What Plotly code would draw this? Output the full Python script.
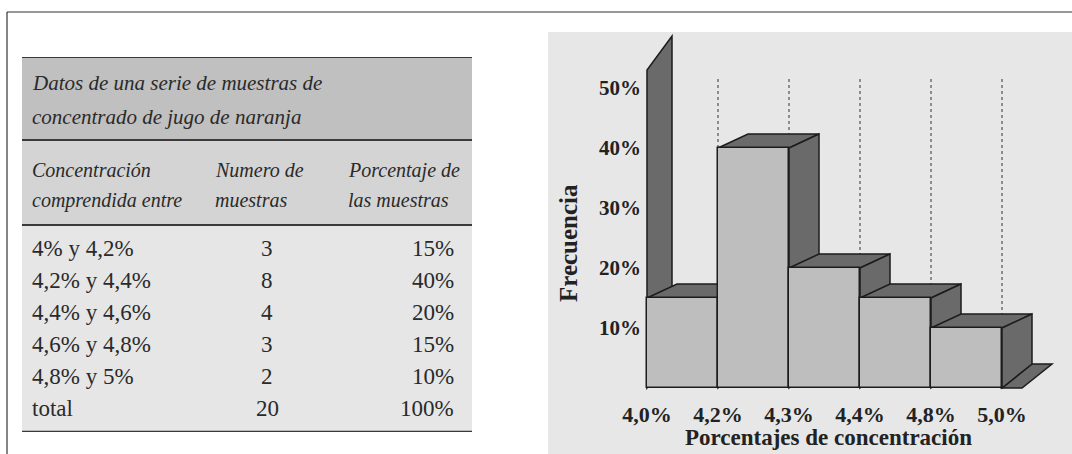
import plotly.graph_objects as go

# ---- data ----
TABLE_TITLE = ["Datos de una serie de muestras de", "concentrado de jugo de naranja"]
COLUMN_HEADERS = [
    ["Concentración", "comprendida entre"],
    ["Numero de", "muestras"],
    ["Porcentaje de", "las muestras"],
]
RANGES = ["4% y 4,2%", "4,2% y 4,4%", "4,4% y 4,6%", "4,6% y 4,8%", "4,8% y 5%"]
COUNTS = [3, 8, 4, 3, 2]
PERCENTS = [15, 40, 20, 15, 10]
TOTAL_LABEL = "total"
TOTAL_COUNT = 20
TOTAL_PERCENT = 100

X_TICK_LABELS = ["4,0%", "4,2%", "4,3%", "4,4%", "4,8%", "5,0%"]
Y_TICKS = [10, 20, 30, 40, 50]
X_TITLE = "Porcentajes de concentración"
Y_TITLE = "Frecuencia"

# ---- page geometry (pixels of the 1072x454 page) ----
W, H = 1072, 454
X0_PX, UNIT_PX = 647, 71      # left edge of first bar, width of one class
Y0_PX, PCT_PX = 388, 6        # baseline, pixels per 1 %
PANEL_LEFT, PANEL_TOP = 548, 32

SERIF = "Liberation Serif"
INK = "#222222"
FRONT = "#bebebe"
DARK = "#6a6a6a"
EDGE = "#1c1c1c"

# depth of the fake 3d effect, in axis units
DX, DY = 30 / UNIT_PX, 14 / PCT_PX
FLOOR_DY = 24 / PCT_PX
WALL_DX, WALL_DY, WALL_TOP = 25 / UNIT_PX, 34 / PCT_PX, 53
GRID_TOP = 51.7
FLOOR_W = 20 / UNIT_PX


def px(x):
    return x / W


def py(y):
    return 1 - y / H


def ux(x):
    return (x - X0_PX) / UNIT_PX


def uy(y):
    return (Y0_PX - y) / PCT_PX


shapes = [
    # chart panel and page frame
    dict(type="rect", xref="paper", yref="paper", x0=px(PANEL_LEFT), x1=1,
         y0=0, y1=py(PANEL_TOP), fillcolor="#e7e7e7", line={"width": 0}, layer="below"),
    dict(type="line", xref="paper", yref="paper", x0=px(7), x1=1,
         y0=py(12), y1=py(12), line={"color": "#333333", "width": 1.2}),
    dict(type="line", xref="paper", yref="paper", x0=px(7), x1=px(7),
         y0=py(12), y1=0, line={"color": "#333333", "width": 1.2}),
]


def face(xs, ys):
    path = "M " + " L ".join(f"{x},{y}" for x, y in zip(xs, ys)) + " Z"
    shapes.append(dict(type="path", xref="x", yref="y", path=path, fillcolor=DARK,
                       line={"color": EDGE, "width": 1.5}, layer="below"))


# back wall of the y axis
face([0, 0, WALL_DX, WALL_DX], [0, WALL_TOP, WALL_TOP + WALL_DY, WALL_DY])

# dotted guide lines at class boundaries
n = len(PERCENTS)
for i in range(1, n + 1):
    shapes.append(dict(type="line", xref="x", yref="y", x0=i, x1=i, y0=0, y1=GRID_TOP,
                       line={"color": "#333333", "width": 1, "dash": "dot"}, layer="below"))

# floor strip right of the last bar
face([n, n + FLOOR_W, n + FLOOR_W + DX, n + DX], [0, 0, FLOOR_DY, FLOOR_DY])

# top and side faces, left to right
for i, h in enumerate(PERCENTS):
    face([i, i + 1, i + 1 + DX, i + DX], [h, h, h + DY, h + DY])
    face([i + 1, i + 1, i + 1 + DX, i + 1 + DX], [0, h, h + DY, FLOOR_DY])

fig = go.Figure()

# front faces of the histogram bars
fig.add_trace(go.Bar(
    x=[i + 0.5 for i in range(n)], y=PERCENTS, width=1,
    marker={"color": FRONT, "line": {"color": EDGE, "width": 1.5}},
    showlegend=False, hovertemplate="%{y}%<extra></extra>",
))

# empty trace so the table subplot exists
fig.add_trace(go.Scatter(x=[None], y=[None], xaxis="x2", yaxis="y2",
                         showlegend=False, hoverinfo="skip"))

# ---- table (x2/y2 in pixels inside the table box) ----
T_LEFT, T_RIGHT, T_TOP, T_BOTTOM = 22, 472, 57, 432
TITLE_END, HEAD_END = 83, 168
bands = [(0, TITLE_END, "#c0c0c0"), (TITLE_END, HEAD_END, "#d4d4d4"),
         (HEAD_END, T_BOTTOM - T_TOP, "#e6e6e6")]
for y0, y1, color in bands:
    shapes.append(dict(type="rect", xref="x2", yref="y2", x0=0, x1=T_RIGHT - T_LEFT,
                       y0=y0, y1=y1, fillcolor=color, line={"width": 0}, layer="below"))
for y, w in [(0, 2), (TITLE_END, 2), (HEAD_END, 2), (T_BOTTOM - T_TOP, 2.5)]:
    shapes.append(dict(type="line", xref="x2", yref="y2", x0=0, x1=T_RIGHT - T_LEFT,
                       y0=y, y1=y, line={"color": "#3a3a3a", "width": w}))

annotations = []


def table_text(text, x, y, anchor, italic=False, size=23):
    if italic:
        text = f"<i>{text}</i>"
    annotations.append(dict(text=text, x=x, y=y, xref="x2", yref="y2", xanchor=anchor,
                            yanchor="middle", showarrow=False,
                            font={"family": SERIF, "size": size, "color": "#2a2a2a"}))


for k, line in enumerate(TABLE_TITLE):
    table_text(line, 8, 26 + k * 34, "left", italic=True, size=21)

HEAD_X = [8, 191, 324]
for col, lines in zip(HEAD_X, COLUMN_HEADERS):
    for k, line in enumerate(lines):
        table_text(line, col, 113 + k * 30, "left", italic=True, size=20)

body = list(zip(RANGES, COUNTS, PERCENTS)) + [(TOTAL_LABEL, TOTAL_COUNT, TOTAL_PERCENT)]
for r, (label, count, pct) in enumerate(body):
    y = 191 + r * 32.1
    table_text(label, 8, y, "left")
    table_text(str(count), 245, y, "center")
    table_text(f"{pct}%", 434, y, "right")

# axis titles of the histogram
annotations.append(dict(text=X_TITLE, x=ux(828), y=uy(437), xref="x", yref="y",
                        showarrow=False, xanchor="center", yanchor="middle",
                        font={"family": SERIF, "size": 23, "color": INK, "weight": "bold"}))
annotations.append(dict(text=Y_TITLE, x=ux(568), y=uy(243), xref="x", yref="y",
                        showarrow=False, textangle=-90, xanchor="center", yanchor="middle",
                        font={"family": SERIF, "size": 25, "color": INK, "weight": "bold"}))

fig.update_layout(
    width=W, height=H,
    margin={"l": 0, "r": 0, "t": 0, "b": 0},
    paper_bgcolor="white", plot_bgcolor="rgba(0,0,0,0)",
    showlegend=False,
    bargap=0,
    xaxis=dict(domain=[px(PANEL_LEFT), 1], range=[ux(PANEL_LEFT), ux(W)],
               anchor="free", position=py(Y0_PX),
               tickvals=list(range(len(X_TICK_LABELS))), ticktext=X_TICK_LABELS,
               tickfont={"family": SERIF, "size": 22, "color": INK, "weight": "bold"},
               ticks="", ticklabelstandoff=11,
               showgrid=False, zeroline=False, showline=False, fixedrange=True),
    yaxis=dict(domain=[0, py(PANEL_TOP)], range=[uy(H), uy(PANEL_TOP)],
               anchor="free", position=px(X0_PX),
               tickvals=Y_TICKS, ticktext=[f"{v}%" for v in Y_TICKS],
               tickfont={"family": SERIF, "size": 21, "color": INK, "weight": "bold"},
               ticks="", ticklabelstandoff=6,
               showgrid=False, zeroline=False, showline=False, fixedrange=True),
    xaxis2=dict(domain=[px(T_LEFT), px(T_RIGHT)], range=[0, T_RIGHT - T_LEFT],
                anchor="y2", visible=False, fixedrange=True),
    yaxis2=dict(domain=[py(T_BOTTOM), py(T_TOP)], range=[T_BOTTOM - T_TOP, 0],
                anchor="x2", visible=False, fixedrange=True),
    shapes=shapes,
    annotations=annotations,
)

# the page body has a default 8px margin; drop it so the figure sits at 0,0
fig.write_html("out.html", config={"displayModeBar": False},
               post_script="document.body.style.margin='0';")
